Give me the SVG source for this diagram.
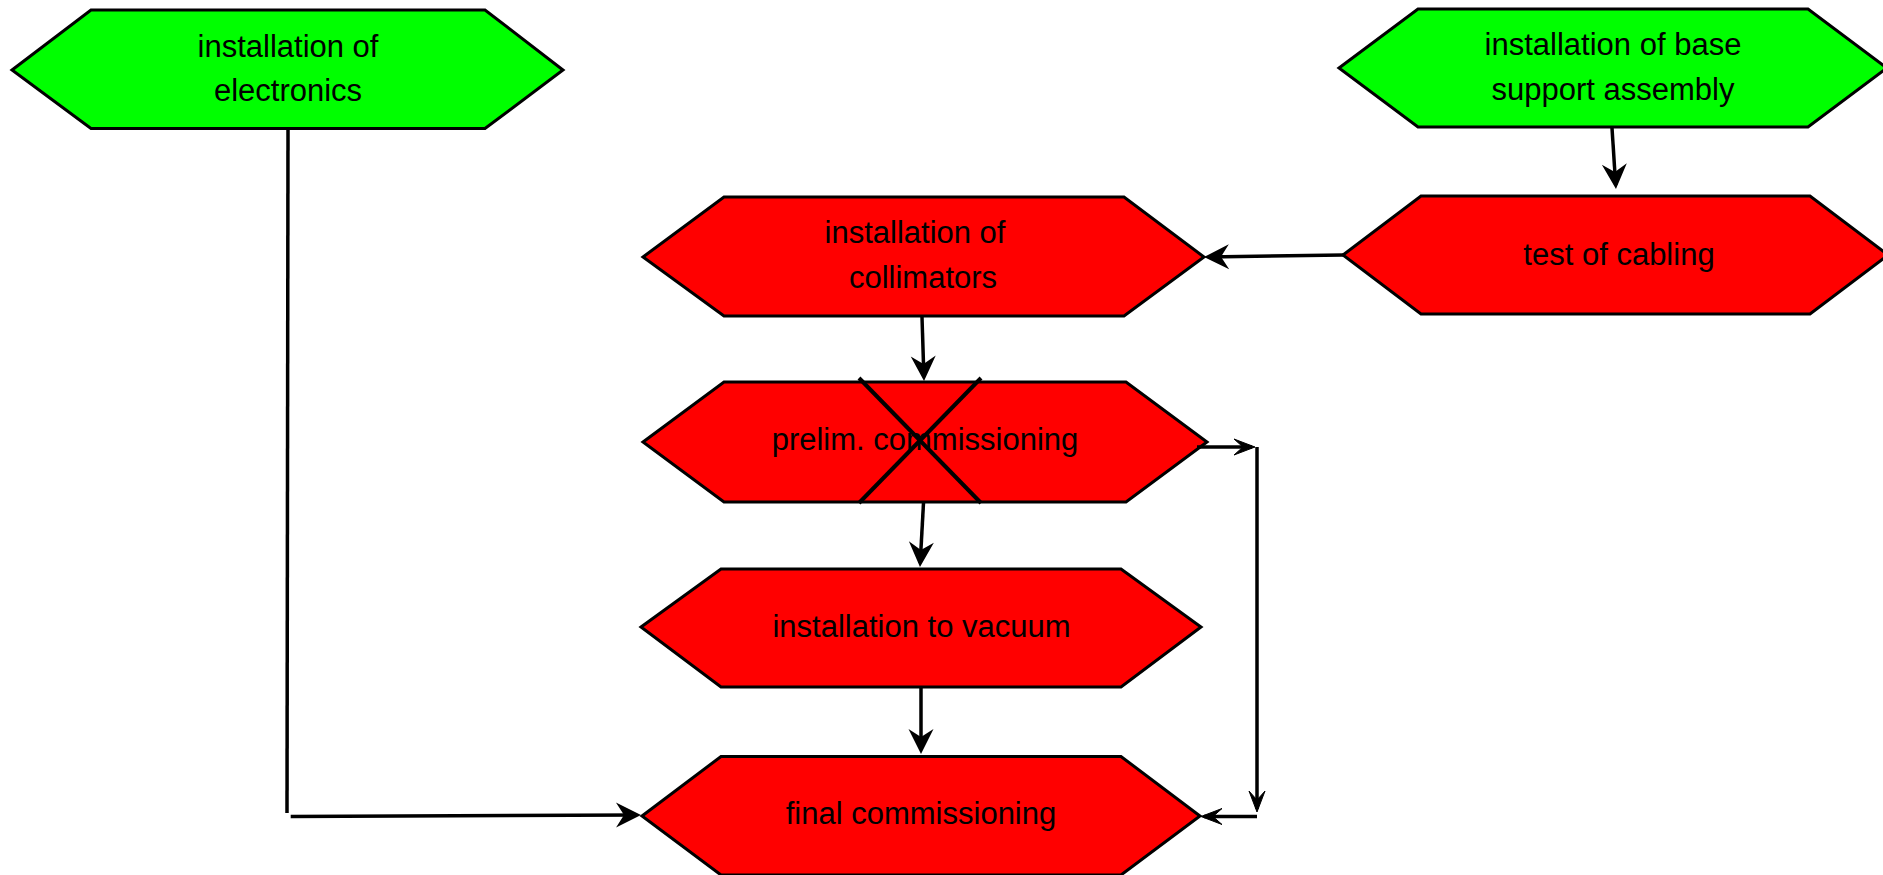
<svg xmlns="http://www.w3.org/2000/svg" width="1883" height="875" viewBox="0 0 1883 875">
<style>
.n{stroke:#000;stroke-width:3;stroke-linejoin:miter}
.g{fill:#00ff00}
.r{fill:#ff0000}
text{font-family:"Liberation Sans",Arial,sans-serif;font-size:31px;fill:#000;text-anchor:middle}
.c{stroke:#000;stroke-width:3.5;fill:none}
.x{stroke:#000;stroke-width:4;fill:none}
</style>
<defs>
<marker id="ah" markerUnits="userSpaceOnUse" orient="auto" refX="-4" refY="0" markerWidth="30" markerHeight="30" overflow="visible"><path d="M0,0 L-25,-12.5 L-17,0 L-25,12.5 Z" fill="#000"/></marker>
<marker id="as" markerUnits="userSpaceOnUse" orient="auto" refX="-3" refY="0" markerWidth="24" markerHeight="24" overflow="visible"><path d="M0,0 L-21,-8 L-12,0 L-21,8 Z" fill="#000" stroke="#000" stroke-width="1"/></marker>
</defs>
<g id="n1"><polygon class="n g" points="12,70 91,10 485,10 563,70 485,128.5 91,128.5"/><text x="288" y="57">installation of</text><text x="288" y="101">electronics</text></g>
<g id="n2"><polygon class="n g" points="1339,68 1418,9 1808,9 1887,68 1808,127 1418,127"/><text x="1613" y="55">installation of base</text><text x="1613" y="100">support assembly</text></g>
<g id="n3"><polygon class="n r" points="1343,255 1421,196 1810,196 1888,255 1810,314 1421,314"/><text x="1619" y="265">test of cabling</text></g>
<g id="n4"><polygon class="n r" points="643,257 724,197 1124,197 1204,257 1124,316 724,316"/><text x="915" y="243">installation of</text><text x="923" y="288">collimators</text></g>
<g id="n5"><polygon class="n r" points="643,442 724,382 1126,382 1207,442 1126,502 724,502"/><text x="925" y="450">prelim. commissioning</text><line class="x" x1="859" y1="378" x2="981" y2="503"/><line class="x" x1="981" y1="378" x2="859" y2="503"/></g>
<g id="n6"><polygon class="n r" points="641,627 721,569 1121,569 1201,627 1121,687 721,687"/><text x="921.5" y="637">installation to vacuum</text></g>
<g id="n7"><polygon class="n r" points="642,816 721,756.5 1121,756.5 1200,816 1121,875 721,875"/><text x="921" y="824">final commissioning</text></g>
<g id="connectors">
<line class="c" x1="1612" y1="128" x2="1615.7" y2="185" marker-end="url(#ah)"/>
<line class="c" x1="1343" y1="255" x2="1208" y2="257" marker-end="url(#ah)"/>
<line class="c" x1="922" y1="317" x2="923.9" y2="377" marker-end="url(#ah)"/>
<line class="c" x1="923.5" y1="503" x2="920.2" y2="563" marker-end="url(#ah)"/>
<line class="c" x1="921" y1="688" x2="921" y2="750" marker-end="url(#ah)"/>
<line class="c" x1="288" y1="129" x2="287" y2="813"/>
<line class="c" x1="290.7" y1="816.5" x2="637" y2="815" marker-end="url(#ah)"/>
<line class="c" x1="1197" y1="447" x2="1252" y2="447" marker-end="url(#as)"/>
<line class="c" x1="1257" y1="447" x2="1257" y2="809" marker-end="url(#as)"/>
<line class="c" x1="1257" y1="816.5" x2="1204" y2="816.5" marker-end="url(#as)"/>
</g>
</svg>
